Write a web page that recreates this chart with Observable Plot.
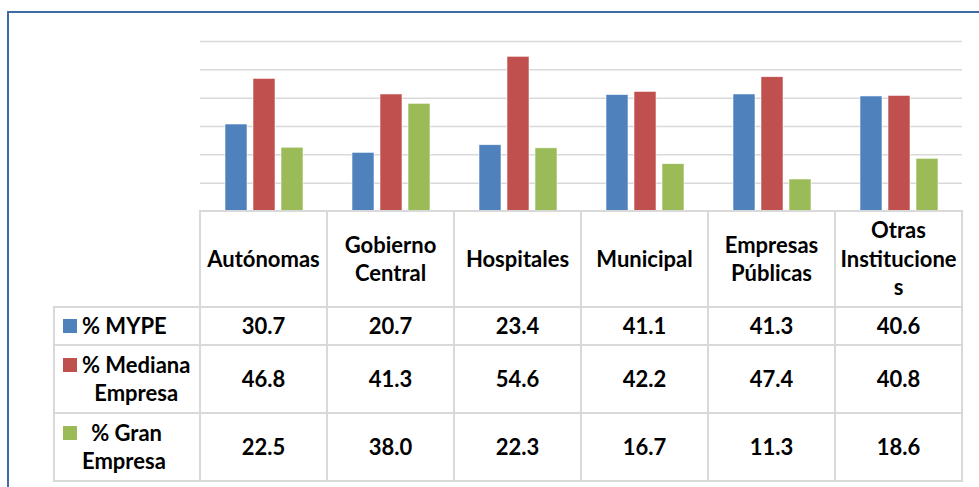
<!DOCTYPE html>
<html>
<head>
<meta charset="utf-8">
<script src="https://cdn.jsdelivr.net/npm/d3@7"></script>
<script src="https://cdn.jsdelivr.net/npm/@observablehq/plot@0.6"></script>
<style>
  html, body { margin: 0; padding: 0; background: #ffffff; }
  #wrap { position: relative; width: 979px; height: 487px; overflow: hidden; background: #fff;
          font-family: Lato, "Open Sans", "Noto Sans", sans-serif; font-weight: 700; color: #000; }
  #chart { position: absolute; left: 0; top: 0; }
  #frame { position: absolute; left: 7px; top: 11px; width: 2000px; height: 2000px;
           border-left: 2px solid #3f6aa3; border-top: 2px solid #3f6aa3; z-index: 5; }
  .ln { position: absolute; background: #d9d9d9; }
  .cell { position: absolute; display: flex; align-items: center; justify-content: center;
          text-align: center; font-size: 22px; line-height: 28.5px; white-space: pre-line; }
  .lg { position: absolute; display: flex; align-items: center; font-size: 22px; line-height: 28.5px; }
  .lg .blk { display: flex; align-items: flex-start; }
  .lg .sw { width: 14px; height: 14px; margin-top: 7px; margin-right: 5px; flex: none; }
  .lg .tx { text-align: center; white-space: pre; }
</style>
</head>
<body>
<div id="wrap"><div id="frame"></div></div>
<script>
// ---- data ----
const categories = ["Autónomas", "Gobierno Central", "Hospitales", "Municipal", "Empresas Públicas", "Otras Instituciones"];
const headerLabels = ["Autónomas", "Gobierno\nCentral", "Hospitales", "Municipal", "Empresas\nPúblicas", "Otras\nInstitucione\ns"];
const series = ["% MYPE", "% Mediana Empresa", "% Gran Empresa"];
const seriesLabels = ["% MYPE", "% Mediana\nEmpresa", " % Gran\nEmpresa"];
const mype = [30.7, 20.7, 23.4, 41.1, 41.3, 40.6];
const mediana = [46.8, 41.3, 54.6, 42.2, 47.4, 40.8];
const gran = [22.5, 38.0, 22.3, 16.7, 11.3, 18.6];
const colors = ["#4f81bd", "#c0504d", "#9bbb59"];
const gridTicks = [10, 20, 30, 40, 50, 60];

const seriesValues = [mype, mediana, gran];
const data = categories.flatMap((c, i) => series.map((s, j) => ({category: c, series: s, value: seriesValues[j][i]})));

const chart = Plot.plot({
  width: 979,
  height: 212,
  marginLeft: 200,
  marginRight: 17,
  marginTop: 41,
  marginBottom: 1,
  style: {background: "transparent", overflow: "visible"},
  fx: {domain: categories, padding: 0, axis: null, label: null},
  x: {domain: series, paddingInner: 0.228, paddingOuter: 0.842, axis: null},
  y: {domain: [0, 60], axis: null},
  color: {domain: series, range: colors},
  marks: [
    Plot.ruleY(gridTicks, {stroke: "#d9d9d9", strokeWidth: 1.5, strokeOpacity: 1}),
    Plot.barY(data, {fx: "category", x: "series", y: "value", fill: "series", stroke: "#ffffff", strokeWidth: 0.7, strokeOpacity: 0.8})
  ]
});
chart.id = "chart";
const wrap = document.getElementById("wrap");
wrap.insertBefore(chart, wrap.firstChild);

// ---- data table below the plot, aligned to the plot's facet scale ----
const fx = chart.scale("fx");
const bw = fx.bandwidth;
const colLeft = categories.map(c => fx.apply(c));
const tableRight = colLeft[colLeft.length - 1] + bw;
const baseY = chart.scale("y").apply(0);
const legendLeft = 54;
const rowHeights = [96, 38, 68, 68];
const rowTops = [baseY];
rowHeights.forEach(h => rowTops.push(rowTops[rowTops.length - 1] + h));

function line(x, y, w, h) {
  const d = document.createElement("div");
  d.className = "ln";
  d.style.left = x + "px"; d.style.top = y + "px";
  d.style.width = w + "px"; d.style.height = h + "px";
  wrap.appendChild(d);
}
const lw = 2;
// vertical lines
[...colLeft, tableRight].forEach(x => line(x - lw / 2, rowTops[0] - lw / 2, lw, rowTops[4] - rowTops[0] + lw));
line(legendLeft - lw / 2, rowTops[1] - lw / 2, lw, rowTops[4] - rowTops[1] + lw);
// horizontal lines
line(colLeft[0] - lw / 2, rowTops[0] - lw / 2, tableRight - colLeft[0] + lw, lw);
for (let r = 1; r <= 4; r++) line(legendLeft - lw / 2, rowTops[r] - lw / 2, tableRight - legendLeft + lw, lw);

function cell(x, y, w, h, text) {
  const d = document.createElement("div");
  d.className = "cell";
  d.style.left = x + "px"; d.style.top = y + "px";
  d.style.width = w + "px"; d.style.height = h + "px";
  d.textContent = text;
  wrap.appendChild(d);
}
// header row
headerLabels.forEach((t, i) => cell(colLeft[i], rowTops[0], bw, rowHeights[0], t));
// value rows
seriesValues.forEach((vals, j) => {
  vals.forEach((v, i) => cell(colLeft[i], rowTops[j + 1], bw, rowHeights[j + 1], v.toFixed(1)));
  const d = document.createElement("div");
  d.className = "lg";
  d.style.left = (legendLeft + 9) + "px";
  d.style.top = rowTops[j + 1] + "px";
  d.style.height = rowHeights[j + 1] + "px";
  const blk = document.createElement("div"); blk.className = "blk";
  const sw = document.createElement("div"); sw.className = "sw"; sw.style.background = colors[j];
  const tx = document.createElement("div"); tx.className = "tx"; tx.textContent = seriesLabels[j];
  blk.appendChild(sw); blk.appendChild(tx); d.appendChild(blk); wrap.appendChild(d);
});
</script>
</body>
</html>
